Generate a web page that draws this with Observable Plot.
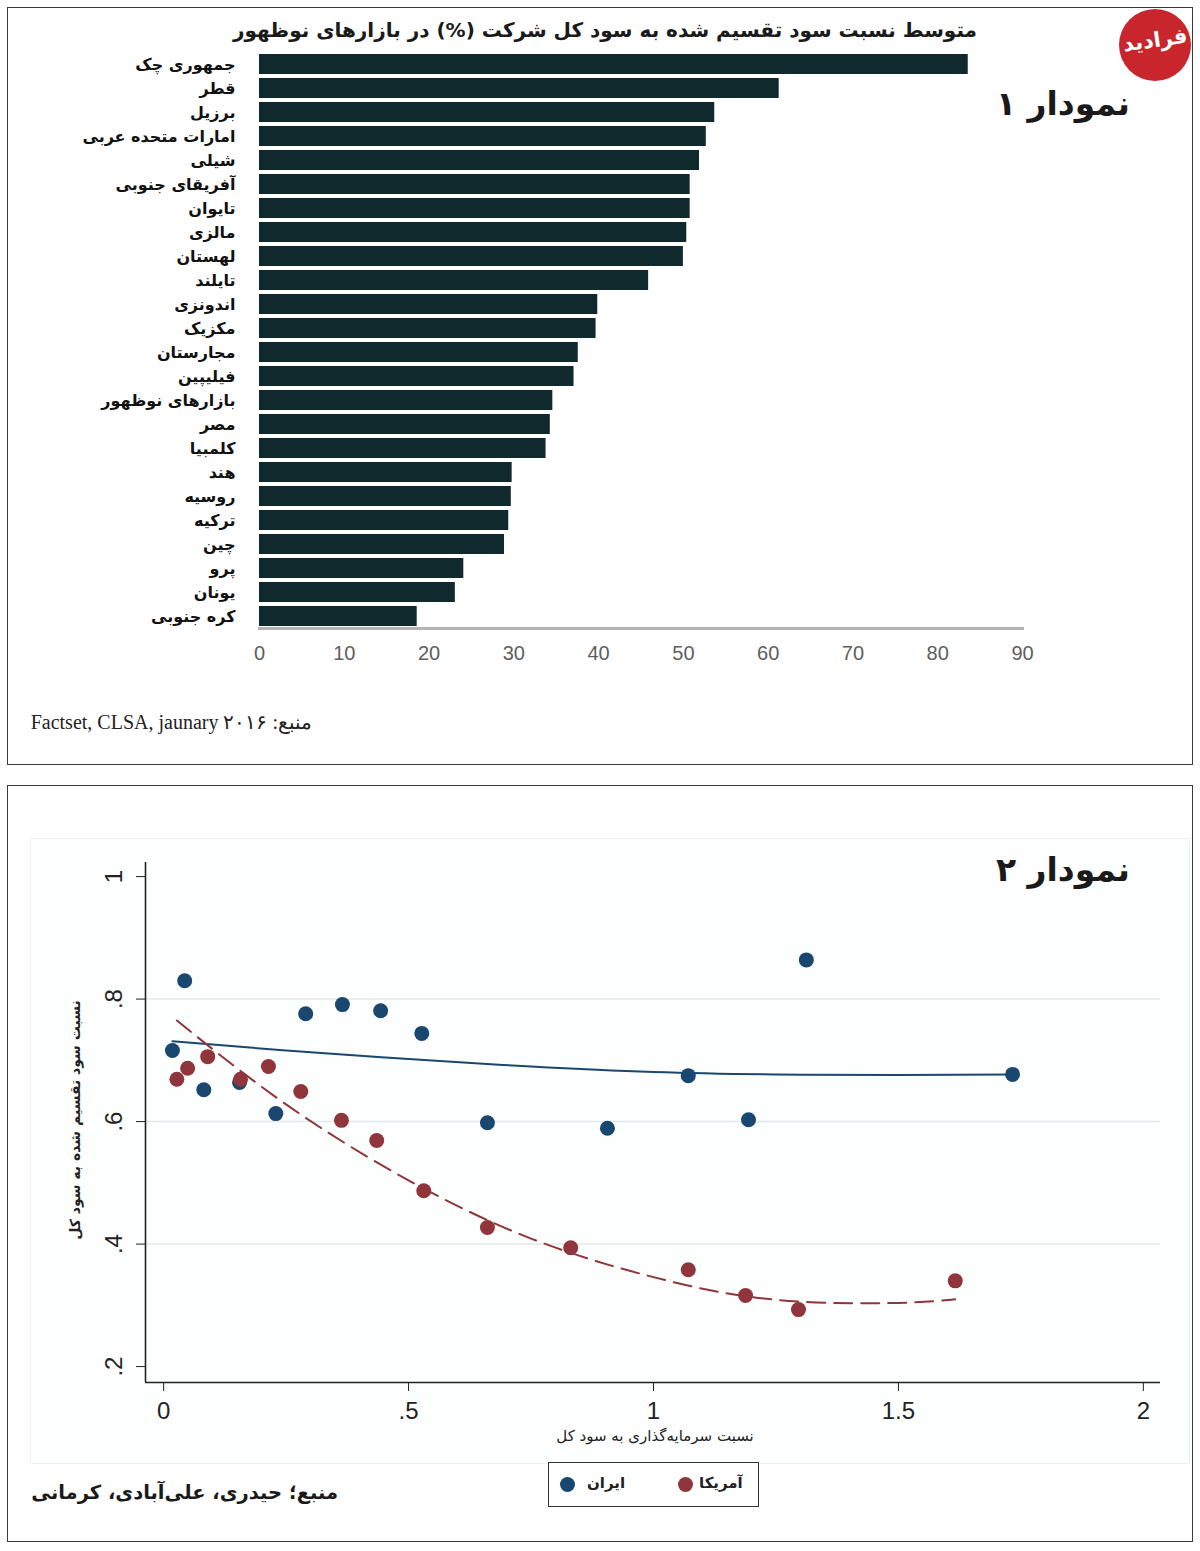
<!DOCTYPE html>
<html>
<head>
<meta charset="utf-8">
<script src="https://cdn.jsdelivr.net/npm/d3@7"></script>
<script src="https://cdn.jsdelivr.net/npm/@observablehq/plot@0.6"></script>
<style>
  html, body { margin: 0; padding: 0; background: #fff; }
  #page { position: relative; width: 1200px; height: 1551px; overflow: hidden; background: #fff; }
  .panel { position: absolute; border: 1.5px solid #3a3a3a; box-sizing: border-box; }
  .abs { position: absolute; white-space: nowrap; }
  .fa { font-family: "DejaVu Sans", "Noto Sans", sans-serif; }
  #chart1, #chart2 { position: absolute; left: 0; }
  #chart1 { top: 0; }
  #chart2 { top: 840px; }
  .legend { position: absolute; left: 548px; top: 1462px; width: 211px; height: 45px; border: 1.5px solid #333; box-sizing: border-box; background: #fff; }
  .dot { position: absolute; width: 15px; height: 15px; border-radius: 50%; }
</style>
</head>
<body>
<div id="page">
  <div class="panel" style="left:7px; top:7px; width:1186px; height:758px;"></div>
  <div class="panel" style="left:7px; top:785px; width:1186px; height:757px;"></div>
  <div class="abs" style="left:30px; top:838px; width:1158px; height:624px; border:1px solid #eef2f2; background:#fdfefe;"></div>

  <div id="chart1"></div>
  <div id="chart2"></div>

  <div class="abs fa" dir="rtl" style="left:230px; width:750px; top:18px; text-align:center; font-size:20px; font-weight:bold; color:#1a1a1a;">متوسط نسبت سود تقسیم شده به سود کل شرکت (%) در بازارهای نوظهور</div>
  <div class="abs fa" dir="rtl" style="right:70px; top:84px; font-size:33px; font-weight:bold; color:#1a1a1a;">نمودار ۱</div>
  <div class="abs" style="left:1119px; top:9px; width:72px; height:72px; border-radius:50%; background:#c8262c;"></div>
  <div class="abs fa" dir="rtl" style="left:1119px; width:72px; top:28px; text-align:center; font-size:21px; font-weight:bold; color:#fff; transform:rotate(-8deg);">فرادید</div>
  <div class="abs" dir="rtl" style="right:888px; top:710px; font-size:20px; font-family:'Liberation Serif','DejaVu Serif',serif; color:#222;">منبع: Factset, CLSA, jaunary ۲۰۱۶</div>

  <div class="abs fa" dir="rtl" style="right:70px; top:850px; font-size:33px; font-weight:bold; color:#1a1a1a;">نمودار ۲</div>
  <div class="abs fa" dir="rtl" style="left:455px; width:400px; top:1427px; text-align:center; font-size:15px; color:#222;">نسبت سرمایه‌گذاری به سود کل</div>
  <div class="abs fa" dir="rtl" style="left:-125px; width:400px; top:1112px; text-align:center; font-size:14px; font-weight:bold; color:#222; transform:rotate(-90deg);">نسبت سود تقسیم شده به سود کل</div>

  <div class="legend">
    <div class="dot" style="left:11px; top:14px; background:#1a476f;"></div>
    <div class="abs fa" style="left:38px; top:11px; font-size:15px; font-weight:bold; color:#222;">ایران</div>
    <div class="dot" style="left:129px; top:14px; background:#90353b;"></div>
    <div class="abs fa" style="left:150px; top:11px; font-size:15px; font-weight:bold; color:#222;">آمریکا</div>
  </div>
  <div class="abs fa" dir="rtl" style="right:862px; top:1481px; font-size:19.5px; font-weight:bold; color:#1a1a1a;">منبع؛ حیدری، علی‌آبادی، کرمانی</div>
</div>

<script>
// ---------- Chart 1: payout ratio in emerging markets ----------
const countries = ["جمهوری چک","قطر","برزیل","امارات متحده عربی","شیلی","آفریقای جنوبی","تایوان","مالزی","لهستان","تایلند","اندونزی","مکزیک","مجارستان","فیلیپین","بازارهای نوظهور","مصر","کلمبیا","هند","روسیه","ترکیه","چین","پرو","یونان","کره جنوبی"];
const payoutPct = [83.6,61.3,53.7,52.7,51.9,50.8,50.8,50.4,50.0,45.9,39.9,39.7,37.6,37.1,34.6,34.3,33.8,29.8,29.7,29.4,28.9,24.1,23.1,18.6];
const xTicks1 = [0,10,20,30,40,50,60,70,80,90];

// ---------- Chart 2: Iran vs USA ----------
const iranX = [0.018,0.043,0.082,0.155,0.229,0.290,0.365,0.443,0.527,0.661,0.906,1.071,1.194,1.312,1.733];
const iranY = [0.716,0.830,0.652,0.664,0.613,0.776,0.791,0.781,0.744,0.598,0.589,0.675,0.603,0.864,0.677];
const usaX  = [0.027,0.049,0.090,0.157,0.214,0.280,0.363,0.435,0.531,0.661,0.831,1.071,1.188,1.296,1.616];
const usaY  = [0.669,0.687,0.706,0.669,0.690,0.649,0.602,0.569,0.487,0.427,0.394,0.358,0.316,0.293,0.340];
// fitted curves
const iranFitX = [0.018,0.25,0.5,0.75,1.0,1.25,1.5,1.733];
const iranFitY = [0.731,0.716,0.702,0.690,0.681,0.677,0.676,0.677];
const usaFitX  = [0.027,0.25,0.5,0.75,1.0,1.25,1.5,1.616];
const usaFitY  = [0.765,0.628,0.504,0.409,0.346,0.309,0.304,0.310];
const xTicks2 = [0,0.5,1,1.5,2];
const yTicks2 = [0.2,0.4,0.6,0.8,1];

const navy = "#1a476f", maroon = "#90353b";
const fmt = d => d === 0 ? "0" : String(d).replace(/^0\./, ".");

const bars = countries.map((c, i) => ({c, v: payoutPct[i]}));
const chart1 = Plot.plot({
  width: 1200, height: 680,
  marginLeft: 259, marginRight: 178, marginTop: 52, marginBottom: 52,
  style: {background: "transparent", fontFamily: "'Liberation Sans', Arial, sans-serif"},
  x: {domain: [0, 90]},
  y: {domain: countries, paddingInner: 0.18, paddingOuter: 0.09},
  marks: [
    Plot.barX(bars, {x: "v", y: "c", fill: "#10292d"}),
    Plot.frame({anchor: "bottom", stroke: "#b4b4b4", strokeWidth: 3}),
    Plot.axisX({ticks: xTicks1, tickSize: 0, tickPadding: 17, fontSize: 20, color: "#5e5e5e", label: null}),
    Plot.axisY({tickSize: 0, tickPadding: 24, fontSize: 16, fontWeight: "bold", fontFamily: "'DejaVu Sans', sans-serif", color: "#111", label: null})
  ]
});
document.getElementById("chart1").append(chart1);

const iran = iranX.map((x, i) => ({x, y: iranY[i]}));
const usa = usaX.map((x, i) => ({x, y: usaY[i]}));
const iranFit = iranFitX.map((x, i) => ({x, y: iranFitY[i]}));
const usaFit = usaFitX.map((x, i) => ({x, y: usaFitY[i]}));
const xMin = -0.037, yMin = 0.174;

const chart2 = Plot.plot({
  width: 1200, height: 600,
  marginLeft: 145, marginRight: 40, marginTop: 22, marginBottom: 58,
  style: {background: "transparent", fontFamily: "'Liberation Sans Narrow', 'Liberation Sans', Arial, sans-serif"},
  x: {domain: [xMin, 2.035]},
  y: {domain: [yMin, 1.023]},
  marks: [
    Plot.ruleY([0.4, 0.6, 0.8], {stroke: "#e3e9ea", strokeWidth: 1.5}),
    Plot.ruleX([xMin], {stroke: "#222", strokeWidth: 1.6}),
    Plot.ruleY([yMin], {stroke: "#222", strokeWidth: 1.6}),
    Plot.line(iranFit, {x: "x", y: "y", stroke: navy, strokeWidth: 2, curve: "natural"}),
    Plot.line(usaFit, {x: "x", y: "y", stroke: maroon, strokeWidth: 2, strokeDasharray: "18,9", curve: "natural"}),
    Plot.dot(iran, {x: "x", y: "y", r: 7.5, fill: navy}),
    Plot.dot(usa, {x: "x", y: "y", r: 7.5, fill: maroon}),
    Plot.axisX({ticks: xTicks2, tickFormat: fmt, tickSize: 9, tickPadding: 10, fontSize: 24, color: "#222", label: null}),
    Plot.axisY({ticks: yTicks2, tickFormat: fmt, tickSize: 9, tickPadding: 15, tickRotate: -90, fontSize: 24, color: "#222", label: null})
  ]
});
document.getElementById("chart2").append(chart2);
</script>
</body>
</html>
